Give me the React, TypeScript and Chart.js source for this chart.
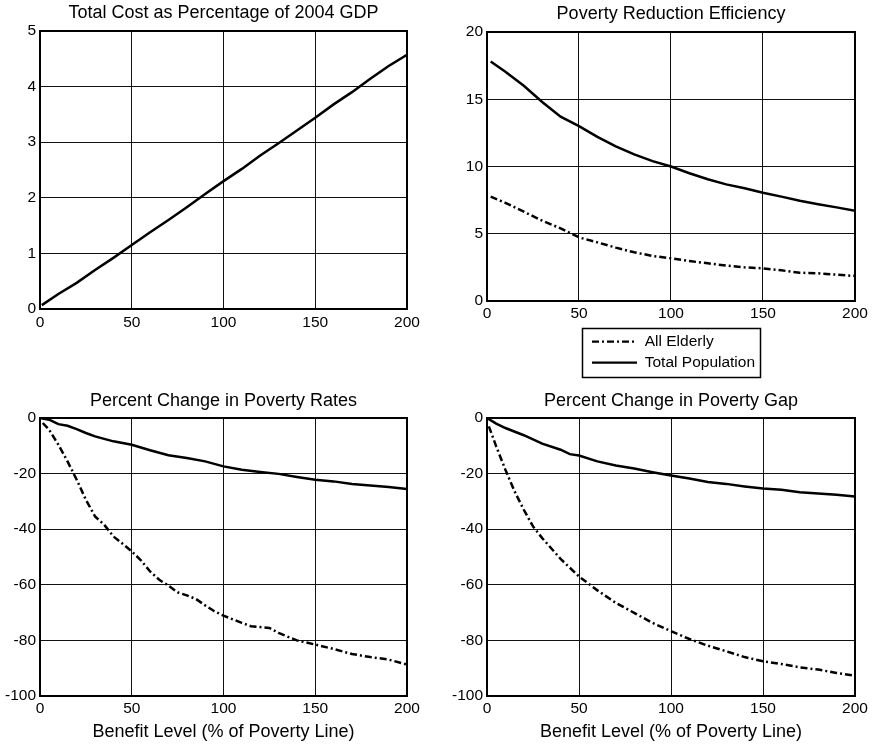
import React, { useEffect, useRef } from 'react';
import { Chart, registerables } from 'chart.js';

Chart.register(...registerables);

const FONT = '"Liberation Sans", Arial, Helvetica, sans-serif';

// ---------- Data ----------
// Panel 1: Total cost as % of 2004 GDP
const costX = [1, 10, 20, 30, 40, 50, 60, 70, 80, 90, 100, 110, 120, 130, 140, 150, 160, 170, 180, 190, 200];
const costY = [0.07, 0.27, 0.47, 0.7, 0.92, 1.15, 1.38, 1.6, 1.83, 2.07, 2.3, 2.52, 2.76, 2.98, 3.21, 3.44, 3.68, 3.9, 4.14, 4.37, 4.57];

// Panel 2: Poverty reduction efficiency
const effX = [2, 10, 20, 30, 40, 50, 60, 70, 80, 90, 100, 110, 120, 130, 140, 150, 160, 170, 180, 190, 200];
const effElderly = [7.76, 7.3, 6.64, 5.97, 5.4, 4.73, 4.36, 3.97, 3.62, 3.35, 3.17, 2.97, 2.8, 2.63, 2.5, 2.43, 2.28, 2.1, 2.06, 1.96, 1.86];
const effTotal = [17.8, 17.05, 16.0, 14.8, 13.7, 13.0, 12.2, 11.5, 10.9, 10.4, 10.0, 9.5, 9.05, 8.67, 8.38, 8.05, 7.76, 7.46, 7.2, 6.96, 6.7];

// Panel 3: Percent change in poverty rates
const rateElderlyX = [1.5, 5, 10, 15, 20, 25, 30, 35, 40, 45, 50, 55, 60, 65, 70, 75, 80, 85, 90, 95, 100, 110, 115, 120, 125, 130, 140, 150, 160, 170, 180, 190, 200];
const rateElderly = [-1.8, -4.2, -9.6, -15.6, -22.2, -29.4, -35.4, -38.4, -42.6, -45.2, -48, -51.2, -55.2, -58.2, -60.3, -62.7, -63.8, -65.1, -67.4, -69.5, -71.1, -73.7, -74.9, -75.2, -75.5, -77.3, -80, -81.5, -83.1, -84.9, -86, -86.9, -88.7];
const rateTotalX = [0, 5, 10, 15, 20, 25, 30, 40, 50, 60, 70, 80, 90, 100, 110, 120, 130, 140, 150, 160, 170, 180, 190, 200];
const rateTotal = [0, -0.6, -2.2, -2.8, -4, -5.4, -6.6, -8.4, -9.6, -11.6, -13.4, -14.4, -15.6, -17.4, -18.6, -19.4, -20.1, -21.2, -22.2, -22.8, -23.7, -24.3, -24.8, -25.5];

// Panel 4: Percent change in poverty gap
const gapElderlyX = [1, 5, 10, 15, 20, 25, 30, 40, 50, 60, 70, 80, 90, 100, 110, 120, 130, 140, 150, 160, 170, 180, 190, 200];
const gapElderly = [-3, -10.2, -18.6, -26.4, -33, -39, -43.2, -50.7, -57, -62, -66.5, -70.1, -73.7, -76.7, -79.5, -81.9, -83.9, -86, -87.5, -88.5, -89.7, -90.5, -91.7, -92.7];
const gapTotalX = [0, 5, 10, 20, 30, 40, 45, 50, 60, 70, 80, 90, 100, 110, 120, 130, 140, 150, 160, 170, 180, 190, 200];
const gapTotal = [0, -2, -3.6, -6.2, -9.2, -11.4, -13, -13.5, -15.6, -17.1, -18.2, -19.5, -20.7, -21.8, -23, -23.7, -24.6, -25.4, -25.8, -26.7, -27.2, -27.6, -28.2];

const titles = [
  'Total Cost as Percentage of 2004 GDP',
  'Poverty Reduction Efficiency',
  'Percent Change in Poverty Rates',
  'Percent Change in Poverty Gap',
];
const seriesNames = ['All Elderly', 'Total Population'];
const xAxisLabel = 'Benefit Level (% of Poverty Line)';
const xRange = [0, 200, 50];

const DASHDOT = [7, 3, 2, 3];

type Series = { label: string; xs: number[]; ys: number[]; dash: number[] };
type Panel = {
  left: number; top: number; width: number; height: number;
  title: string; titlePad: { top: number; bottom: number };
  yMin: number; yMax: number; yStep: number;
  yAxisWidth: number; xAxisHeight: number; padRight: number; xTickPad: number;
  xTitle?: string; series: Series[];
  legendBox?: { x: number; y: number; w: number; h: number };
};

const panels: Panel[] = [
  {
    left: 0, top: 0, width: 437, height: 340,
    title: titles[0], titlePad: { top: 2.7, bottom: 6.7 },
    yMin: 0, yMax: 5, yStep: 1,
    yAxisWidth: 40, xAxisHeight: 31, padRight: 30, xTickPad: 4.7,
    series: [{ label: 'Cost', xs: costX, ys: costY, dash: [] }],
  },
  {
    left: 437, top: 0, width: 440, height: 380,
    title: titles[1], titlePad: { top: 3.2, bottom: 7.2 },
    yMin: 0, yMax: 20, yStep: 5,
    yAxisWidth: 50, xAxisHeight: 79, padRight: 22, xTickPad: 3.7,
    series: [
      { label: seriesNames[0], xs: effX, ys: effElderly, dash: DASHDOT },
      { label: seriesNames[1], xs: effX, ys: effTotal, dash: [] },
    ],
    legendBox: { x: 145, y: 328, w: 178, h: 49 },
  },
  {
    left: 0, top: 370, width: 437, height: 378,
    title: titles[2], titlePad: { top: 20.2, bottom: 6.2 },
    yMin: -100, yMax: 0, yStep: 20,
    yAxisWidth: 40, xAxisHeight: 52, padRight: 30, xTickPad: 3.7,
    xTitle: xAxisLabel,
    series: [
      { label: seriesNames[0], xs: rateElderlyX, ys: rateElderly, dash: DASHDOT },
      { label: seriesNames[1], xs: rateTotalX, ys: rateTotal, dash: [] },
    ],
  },
  {
    left: 437, top: 370, width: 440, height: 378,
    title: titles[3], titlePad: { top: 20.2, bottom: 6.2 },
    yMin: -100, yMax: 0, yStep: 20,
    yAxisWidth: 50, xAxisHeight: 52, padRight: 22, xTickPad: 3.7,
    xTitle: xAxisLabel,
    series: [
      { label: seriesNames[0], xs: gapElderlyX, ys: gapElderly, dash: DASHDOT },
      { label: seriesNames[1], xs: gapTotalX, ys: gapTotal, dash: [] },
    ],
  },
];

function PanelChart({ p }: { p: Panel }) {
  const ref = useRef<HTMLCanvasElement | null>(null);
  useEffect(() => {
    if (!ref.current) return;
    const tickFont = { family: FONT, size: 15.5 };
    const framePlugin = {
      id: 'frame',
      beforeDraw(chart: any) {
        const lg = chart.legend;
        const b = p.legendBox;
        if (lg && b) {
          lg.left = b.x + 4.5;
          lg.top = b.y + 0.45;
          lg.width = 200;
          lg.height = 60;
          lg.right = lg.left + 200;
          lg.bottom = lg.top + 60;
        }
      },
      afterDraw(chart: any) {
        const ctx = chart.ctx;
        const { left, top, right, bottom } = chart.chartArea;
        ctx.save();
        ctx.strokeStyle = '#000';
        ctx.lineWidth = 2;
        ctx.strokeRect(left, top, right - left, bottom - top);
        const b = p.legendBox;
        if (b) {
          ctx.lineWidth = 1.5;
          ctx.strokeRect(b.x + 0.5, b.y + 0.5, b.w, b.h);
        }
        ctx.restore();
      },
    };
    const defaultLabels = (Chart as any).defaults.plugins.legend.labels.generateLabels;
    const chart = new Chart(ref.current, {
      type: 'line',
      data: {
        datasets: p.series.map((s) => ({
          label: s.label,
          data: s.xs.map((x, i) => ({ x, y: s.ys[i] })),
          borderColor: '#000',
          backgroundColor: '#000',
          borderWidth: 2.5,
          borderDash: s.dash,
          pointRadius: 0,
          pointStyle: 'line',
          tension: 0,
          fill: false,
        })),
      },
      options: {
        responsive: false,
        animation: false,
        devicePixelRatio: 1,
        layout: { padding: { left: 0, right: p.padRight, top: 0, bottom: 0 } },
        plugins: {
          title: {
            display: true,
            text: p.title,
            color: '#000',
            fullSize: false,
            font: { family: FONT, size: 18, weight: 'normal', lineHeight: 1.2 },
            padding: p.titlePad,
          },
          legend: p.legendBox
            ? {
                display: true,
                position: 'right',
                align: 'start',
                maxWidth: 0.001,
                labels: {
                  usePointStyle: true,
                  pointStyle: 'line',
                  pointStyleWidth: 45,
                  boxWidth: 45,
                  padding: 5.5,
                  color: '#000',
                  font: { family: FONT, size: 15.5 },
                  generateLabels: (chart: any) => {
                    const items = defaultLabels(chart);
                    items.forEach((it: any) => {
                      const ds = chart.data.datasets[it.datasetIndex];
                      it.lineDash = ds.borderDash || [];
                      it.lineWidth = 2.2;
                      it.strokeStyle = '#000';
                      it.pointStyle = 'line';
                    });
                    return items;
                  },
                },
              }
            : { display: false },
          tooltip: { enabled: false },
        },
        scales: {
          x: {
            type: 'linear',
            min: xRange[0],
            max: xRange[1],
            ticks: { stepSize: xRange[2], color: '#000', font: tickFont, padding: p.xTickPad, maxRotation: 0, autoSkip: false },
            grid: { color: '#111', lineWidth: 1, drawTicks: false },
            border: { display: false },
            title: p.xTitle
              ? {
                  display: true,
                  text: p.xTitle,
                  color: '#000',
                  font: { family: FONT, size: 18, lineHeight: 1.2 },
                  padding: { top: 0, bottom: 5.2 },
                }
              : { display: false },
            afterFit: (s: any) => {
              s.height = p.xAxisHeight;
            },
          },
          y: {
            type: 'linear',
            min: p.yMin,
            max: p.yMax,
            ticks: { stepSize: p.yStep, color: '#000', font: tickFont, padding: 4 },
            grid: { color: '#111', lineWidth: 1, drawTicks: false },
            border: { display: false },
            afterFit: (s: any) => {
              s.width = p.yAxisWidth;
            },
          },
        },
      },
      plugins: [framePlugin],
    } as any);
    return () => chart.destroy();
  }, [p]);
  return (
    <canvas
      ref={ref}
      width={p.width}
      height={p.height}
      style={{ position: 'absolute', left: p.left, top: p.top, width: p.width, height: p.height }}
    />
  );
}

export default function App() {
  return (
    <div
      style={{
        position: 'absolute',
        left: 0,
        top: 0,
        width: 877,
        height: 748,
        overflow: 'hidden',
        background: '#fff',
      }}
    >
      {panels.map((p, i) => (
        <PanelChart key={i} p={p} />
      ))}
    </div>
  );
}
